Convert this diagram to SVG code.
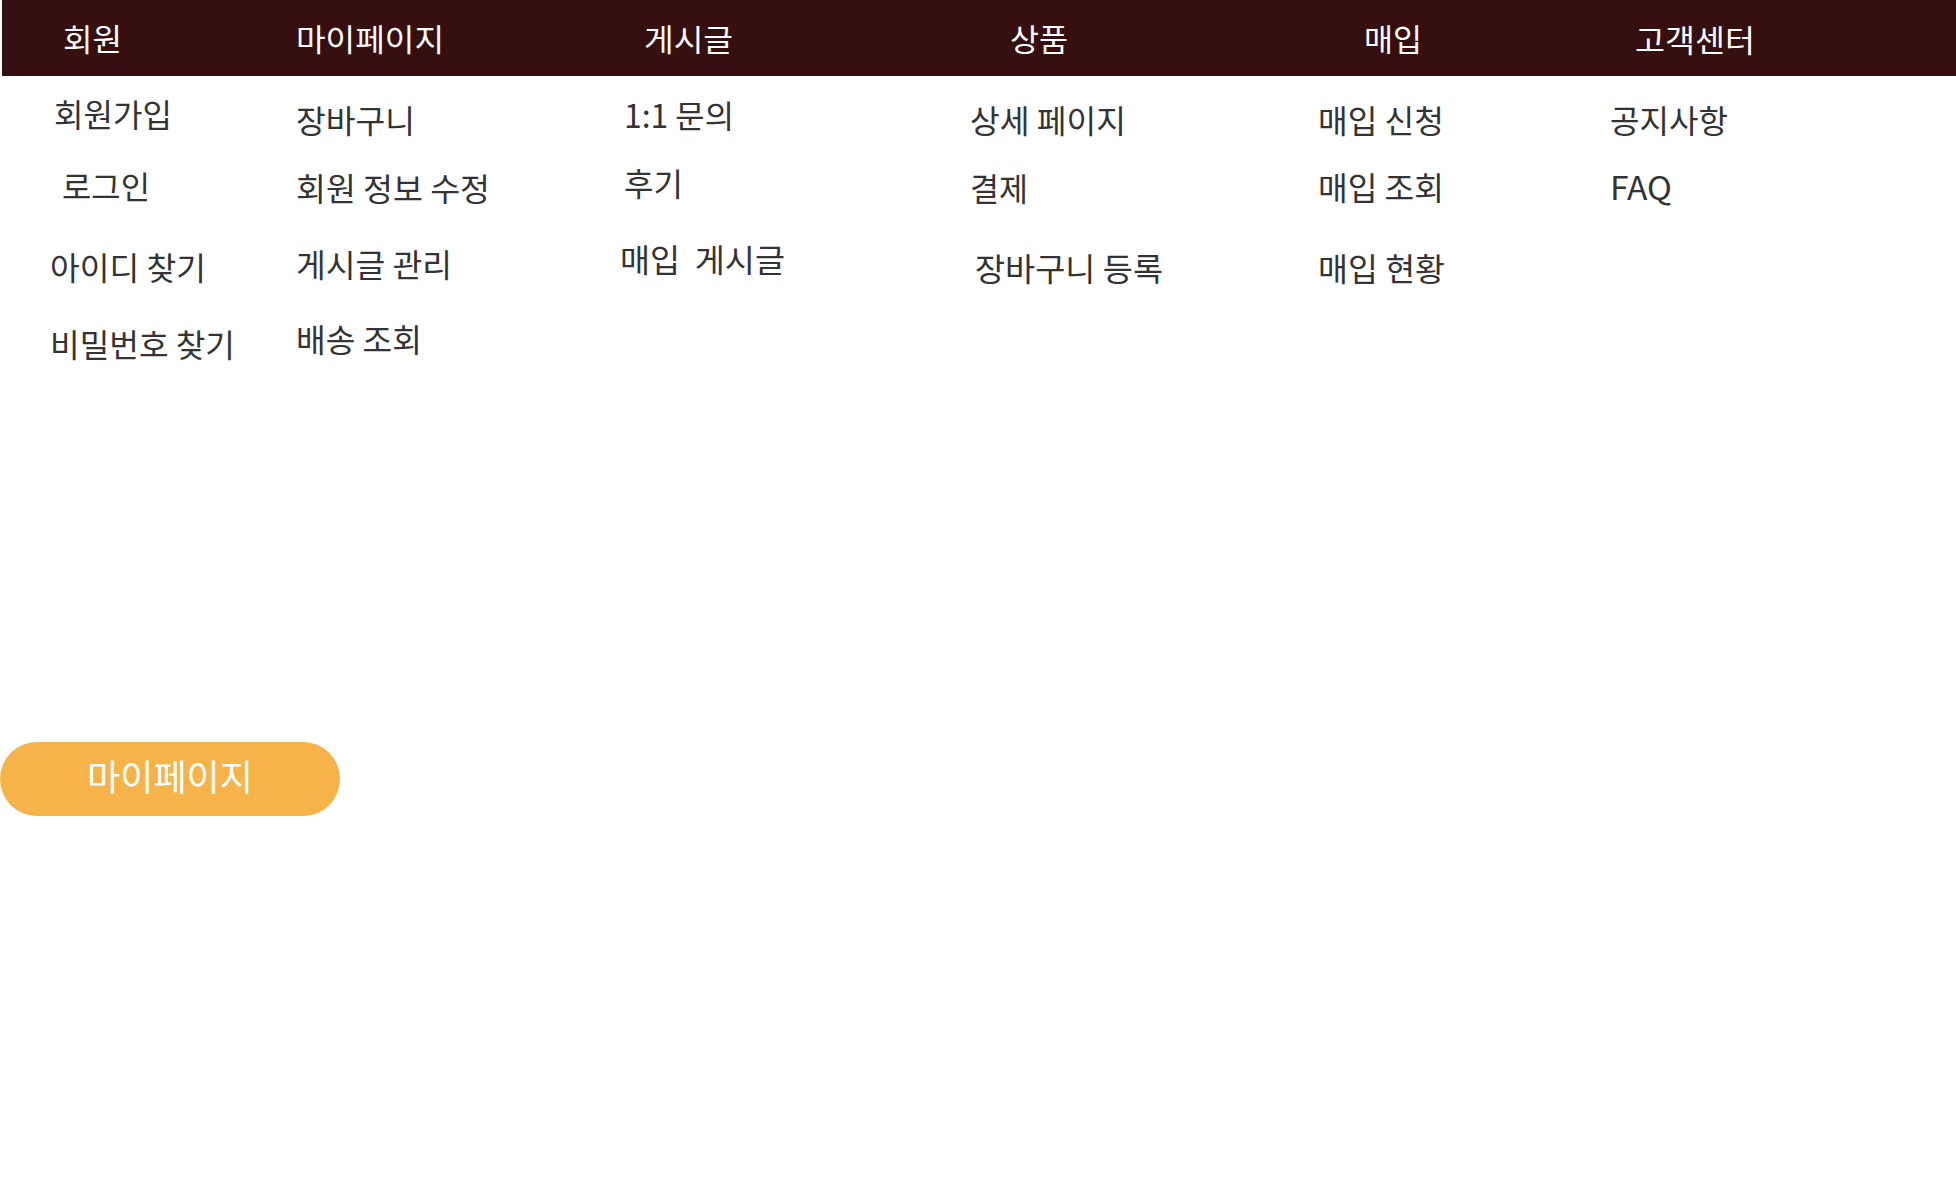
<svg xmlns="http://www.w3.org/2000/svg" width="1956" height="1200" viewBox="0 0 1956 1200">
<style>
.t{font-family:"Noto Sans CJK KR","Noto Sans",sans-serif;}
.h{font-size:31px;fill:#ffffff;}
.b{font-size:32px;fill:#333333;}
.btn{font-size:36px;fill:#ffffff;}
.pre{white-space:pre;}
</style>
<rect x="0" y="0" width="1956" height="1200" fill="#ffffff"/>
<g id="header">
<rect x="2" y="0" width="1954" height="76" fill="#361011"/>
<text class="t h" x="63" y="51" textLength="59" lengthAdjust="spacingAndGlyphs">회원</text>
<text class="t h" x="296" y="51" textLength="148" lengthAdjust="spacingAndGlyphs">마이페이지</text>
<text class="t h" x="644" y="51" textLength="89" lengthAdjust="spacingAndGlyphs">게시글</text>
<text class="t h" x="1010" y="51" textLength="58" lengthAdjust="spacingAndGlyphs">상품</text>
<text class="t h" x="1364" y="51" textLength="58" lengthAdjust="spacingAndGlyphs">매입</text>
<text class="t h" x="1635" y="52" textLength="120" lengthAdjust="spacingAndGlyphs">고객센터</text>
</g>
<g id="col-member">
<text class="t b" x="54" y="127" textLength="118" lengthAdjust="spacingAndGlyphs">회원가입</text>
<text class="t b" x="62" y="199" textLength="88" lengthAdjust="spacingAndGlyphs">로그인</text>
<text class="t b" x="50" y="280" textLength="156" lengthAdjust="spacingAndGlyphs">아이디 찾기</text>
<text class="t b" x="50" y="357" textLength="185" lengthAdjust="spacingAndGlyphs">비밀번호 찾기</text>
</g>
<g id="col-mypage">
<text class="t b" x="296" y="133" textLength="119" lengthAdjust="spacingAndGlyphs">장바구니</text>
<text class="t b" x="296" y="201" textLength="194" lengthAdjust="spacingAndGlyphs">회원 정보 수정</text>
<text class="t b" x="296" y="277" textLength="156" lengthAdjust="spacingAndGlyphs">게시글 관리</text>
<text class="t b" x="296" y="352" textLength="126" lengthAdjust="spacingAndGlyphs">배송 조회</text>
</g>
<g id="col-board">
<text class="t b" x="624" y="128" textLength="110" lengthAdjust="spacingAndGlyphs">1:1 문의</text>
<text class="t b" x="624" y="196" textLength="59" lengthAdjust="spacingAndGlyphs">후기</text>
<text class="t b pre" x="620" y="272" textLength="165" lengthAdjust="spacingAndGlyphs" xml:space="preserve">매입  게시글</text>
</g>
<g id="col-product">
<text class="t b" x="970" y="133" textLength="156" lengthAdjust="spacingAndGlyphs">상세 페이지</text>
<text class="t b" x="970" y="201" textLength="58" lengthAdjust="spacingAndGlyphs">결제</text>
<text class="t b" x="975" y="281" textLength="188" lengthAdjust="spacingAndGlyphs">장바구니 등록</text>
</g>
<g id="col-purchase">
<text class="t b" x="1318" y="133" textLength="126" lengthAdjust="spacingAndGlyphs">매입 신청</text>
<text class="t b" x="1318" y="200" textLength="126" lengthAdjust="spacingAndGlyphs">매입 조회</text>
<text class="t b" x="1318" y="281" textLength="127" lengthAdjust="spacingAndGlyphs">매입 현황</text>
</g>
<g id="col-support">
<text class="t b" x="1610" y="133" textLength="118" lengthAdjust="spacingAndGlyphs">공지사항</text>
<text class="t b" x="1610" y="200" textLength="62" lengthAdjust="spacingAndGlyphs">FAQ</text>
</g>
<g id="connectors"></g>
<g id="btn-mypage">
<rect x="0" y="742" width="340" height="74" rx="37" ry="37" fill="#f5b349"/>
<text class="t btn" x="87" y="791" textLength="166" lengthAdjust="spacingAndGlyphs">마이페이지</text>
</g>
</svg>
